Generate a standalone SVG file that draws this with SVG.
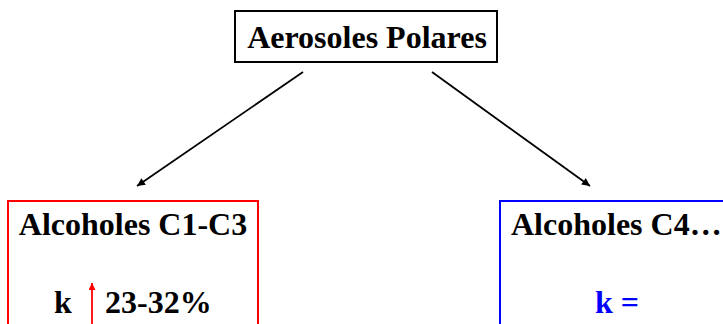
<svg xmlns="http://www.w3.org/2000/svg" width="723" height="324" viewBox="0 0 723 324">
  <defs>
    <marker id="head" viewBox="0 0 10 10" refX="10" refY="5" markerWidth="10" markerHeight="8" markerUnits="userSpaceOnUse" orient="auto">
      <path d="M0,0 L10,5 L0,10 z" fill="#000"/>
    </marker>
    <marker id="headRed" viewBox="0 0 10 10" refX="10" refY="5" markerWidth="8" markerHeight="7" markerUnits="userSpaceOnUse" orient="auto">
      <path d="M0,0 L10,5 L0,10 z" fill="#f00"/>
    </marker>
  </defs>
  <style>
    .edge { stroke: #000; stroke-width: 1.8; fill: none; marker-end: url(#head); }
  </style>
  <rect width="723" height="324" fill="#fff"/>

  <g font-family="Liberation Serif, Times New Roman, serif" font-weight="bold" font-size="32">
    <g id="aerosoles-polares">
      <rect x="235" y="11" width="262" height="51" fill="#fff" stroke="#000" stroke-width="2"/>
      <text x="367" y="48" text-anchor="middle">Aerosoles Polares</text>
    </g>

    <g id="alcoholes-c1-c3">
      <rect x="8" y="201" width="250" height="140" fill="#fff" stroke="#f00" stroke-width="2"/>
      <text x="133" y="235" text-anchor="middle">Alcoholes C1-C3</text>
      <text x="54" y="313">k</text>
      <line x1="92" y1="330" x2="92" y2="283" stroke="#f00" stroke-width="1.8" marker-end="url(#headRed)"/>
      <text x="105" y="313">23-32%</text>
    </g>

    <g id="alcoholes-c4">
      <rect x="500" y="201" width="240" height="140" fill="#fff" stroke="#00f" stroke-width="2"/>
      <text x="511" y="235">Alcoholes C4…</text>
      <text x="595" y="313" fill="#00f">k =</text>
    </g>
  </g>

  <g id="connectors">
    <line class="edge" x1="303" y1="72" x2="137" y2="186"/>
    <line class="edge" x1="432" y1="72" x2="590" y2="186"/>
  </g>
</svg>
